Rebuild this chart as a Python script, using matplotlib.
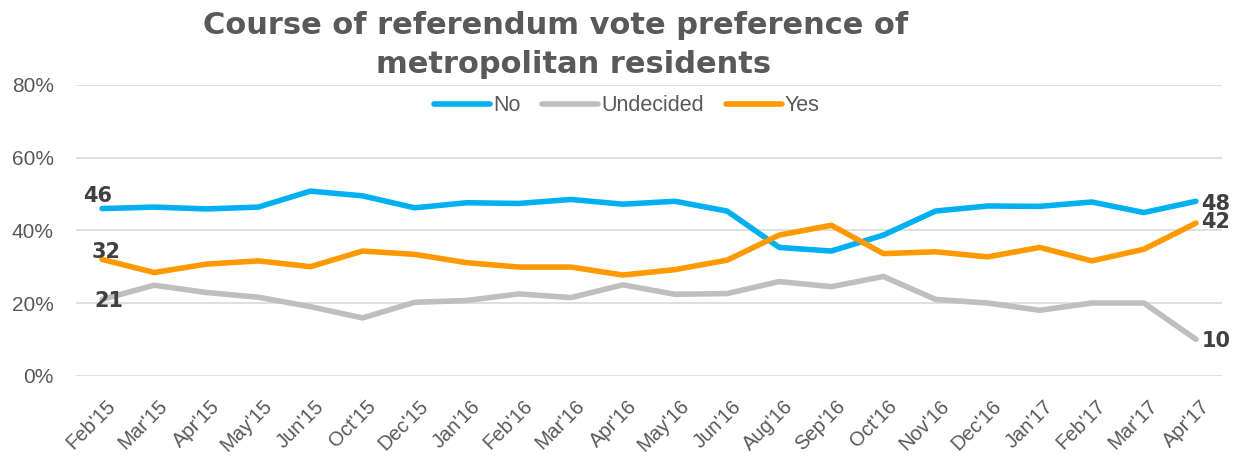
import matplotlib
matplotlib.use("Agg")
import matplotlib.pyplot as plt
from matplotlib.transforms import ScaledTranslation

months = ["Feb'15", "Mar'15", "Apr'15", "May'15", "Jun'15", "Oct'15", "Dec'15",
          "Jan'16", "Feb'16", "Mar'16", "Apr'16", "May'16", "Jun'16", "Aug'16",
          "Sep'16", "Oct'16", "Nov'16", "Dec'16", "Jan'17", "Feb'17", "Mar'17",
          "Apr'17"]

no_vals = [46, 46.4, 45.9, 46.4, 50.8, 49.5, 46.2, 47.6, 47.4, 48.5, 47.2, 48.0,
           45.3, 35.3, 34.3, 38.7, 45.3, 46.7, 46.6, 47.8, 44.9, 48]
undecided_vals = [21, 24.9, 22.9, 21.6, 19.0, 15.9, 20.2, 20.7, 22.5, 21.5, 25.0,
                  22.4, 22.6, 25.9, 24.5, 27.3, 21.0, 20.0, 18.0, 20.0, 20.0, 10]
yes_vals = [32, 28.4, 30.7, 31.6, 30.0, 34.3, 33.4, 31.1, 29.9, 29.9, 27.7, 29.2,
            31.8, 38.7, 41.4, 33.6, 34.1, 32.7, 35.3, 31.6, 34.8, 42]

series_names = ["No", "Undecided", "Yes"]
series_colors = ["#00B0F0", "#BFBFBF", "#FF9900"]
y_ticks = [0, 20, 40, 60, 80]

title_line1 = "Course of referendum vote preference of"
title_line2 = "metropolitan residents"

TEXT_GREY = "#595959"
LABEL_DARK = "#404040"
BASE_FONT = ["Liberation Sans", "DejaVu Sans"]

W, H, DPI = 1240, 459, 100
fig = plt.figure(figsize=(W / DPI, H / DPI), dpi=DPI)
ax = fig.add_axes([76 / W, 1 - 375.7 / H, (1222 - 76) / W, (375.7 - 85) / H])

x = list(range(len(months)))
lines = []
for vals, name, col in zip([no_vals, undecided_vals, yes_vals], series_names, series_colors):
    ln, = ax.plot(x, vals, color=col, lw=4.0, label=name,
                  solid_capstyle="round", solid_joinstyle="round")
    lines.append(ln)

ax.set_xlim(-0.5, len(months) - 0.5)
ax.set_ylim(0, 80)
ax.set_yticks(y_ticks)
ax.set_yticklabels([f"{t}%" for t in y_ticks], family=BASE_FONT, fontsize=15,
                   color=TEXT_GREY)
ax.set_xticks(x)
ax.set_xticklabels(months, rotation=45, ha="right", va="top",
                   rotation_mode="anchor", family=BASE_FONT, fontsize=14.5,
                   color=TEXT_GREY)
ax.tick_params(axis="both", length=0)
ax.tick_params(axis="y", pad=16)
ax.tick_params(axis="x", pad=15)
offset = ScaledTranslation(4 / DPI, 0, fig.dpi_scale_trans)
for lbl in ax.get_xticklabels():
    lbl.set_transform(lbl.get_transform() + offset)

ax.grid(axis="y", color="#D9D9D9", lw=1.2)
ax.set_axisbelow(True)
for sp in ax.spines.values():
    sp.set_visible(False)

# End-point value labels
lab_kw = dict(family=["DejaVu Sans"], fontsize=15, fontweight="bold",
              color=LABEL_DARK, textcoords="offset points", va="center")
first, last = 0, len(months) - 1
ax.annotate(f"{no_vals[first]:.0f}", (first, no_vals[first]), xytext=(-3, 9),
            ha="center", **lab_kw)
ax.annotate(f"{yes_vals[first]:.0f}", (first, yes_vals[first]), xytext=(3, 5),
            ha="center", **lab_kw)
ax.annotate(f"{undecided_vals[first]:.0f}", (first, undecided_vals[first]),
            xytext=(5, -1.5), ha="center", **lab_kw)
ax.annotate(f"{no_vals[last]:.0f}", (last, no_vals[last]), xytext=(4, -2),
            ha="left", **lab_kw)
ax.annotate(f"{yes_vals[last]:.0f}", (last, yes_vals[last]), xytext=(4, 1),
            ha="left", **lab_kw)
ax.annotate(f"{undecided_vals[last]:.0f}", (last, undecided_vals[last]),
            xytext=(4, -1), ha="left", **lab_kw)

fig.legend(handles=lines, loc="center", bbox_to_anchor=(627 / W, 1 - 105.7 / H),
           ncol=3, frameon=False, prop={"family": BASE_FONT, "size": 15.5},
           labelcolor=TEXT_GREY, handlelength=2.6, handletextpad=0.15,
           columnspacing=1.0)

title_kw = dict(family=["DejaVu Sans"], fontweight="heavy", fontsize=22,
                color=TEXT_GREY, ha="center", va="baseline")
fig.text(556 / W, 1 - 34 / H, title_line1, **title_kw)
fig.text(574 / W, 1 - 73 / H, title_line2, **title_kw)

fig.savefig("out.png", dpi=DPI)
